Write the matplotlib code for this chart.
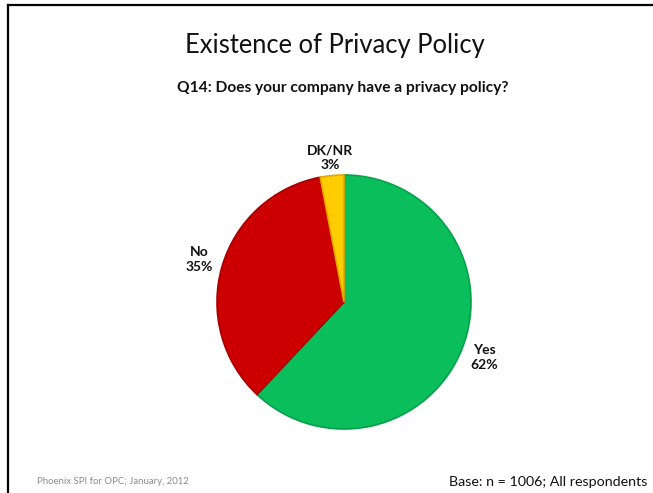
import matplotlib
matplotlib.use('Agg')
import numpy as np
import matplotlib.pyplot as plt
from matplotlib.lines import Line2D

plt.rcParams['font.family'] = ['Lato', 'DejaVu Sans']

# Data
categories = ['Yes', 'No', 'DK/NR']
shares = [62, 35, 3]
colors = ['#0ABF5B', '#CC0000', '#FFCC00']
edge_colors = ['#07A04A', '#A80000', '#E0A800']

W, H = 653, 493
fig = plt.figure(figsize=(W / 100, H / 100), dpi=100)

# slide border (top and left only, as in the reference)
fig.add_artist(Line2D([8 / W, 1], [1 - 5 / H, 1 - 5 / H], color='black', lw=1.6))
fig.add_artist(Line2D([8 / W, 8 / W], [0, 1 - 5 / H], color='black', lw=1.6))

fig.text(335 / W, 1 - 45 / H, 'Existence of Privacy Policy', ha='center', va='center',
         fontsize=18.4, color='#111111')
fig.text(342.5 / W, 1 - 88 / H, 'Q14: Does your company have a privacy policy?', ha='center',
         va='center', fontsize=11.2, fontweight='bold', color='#111111')

# pie
cx, cy, r = 344, 302, 127
ax = fig.add_axes([(cx - r) / W, (H - cy - r) / H, 2 * r / W, 2 * r / H])
labels = [f'{c}\n{v}%' for c, v in zip(categories, shares)]
wedges, texts = ax.pie(shares, labels=labels, colors=colors, startangle=90, counterclock=False,
                       labeldistance=1.19, radius=1,
                       wedgeprops=dict(linewidth=1.2),
                       textprops=dict(fontsize=10, fontweight='bold', color='#111111',
                                      ha='center', va='center', linespacing=1.3))
for w, ec in zip(wedges, edge_colors):
    w.set_edgecolor(ec)

# small slice label sits a bit closer to the rim
w = wedges[2]
mid = np.deg2rad((w.theta1 + w.theta2) / 2)
texts[2].set_position((1.14 * np.cos(mid), 1.14 * np.sin(mid)))

ax.set_xlim(-1, 1)
ax.set_ylim(-1, 1)
ax.set_aspect('equal')
ax.axis('off')

fig.text(37 / W, 1 - 482 / H, 'Phoenix SPI for OPC; January, 2012', ha='left', va='center',
         fontsize=6.9, color='#8c8c8c')
fig.text(449 / W, 1 - 482 / H, 'Base: n = 1006; All respondents', ha='left', va='center',
         fontsize=10.3, color='#111111')

fig.savefig('out.png', dpi=100)
